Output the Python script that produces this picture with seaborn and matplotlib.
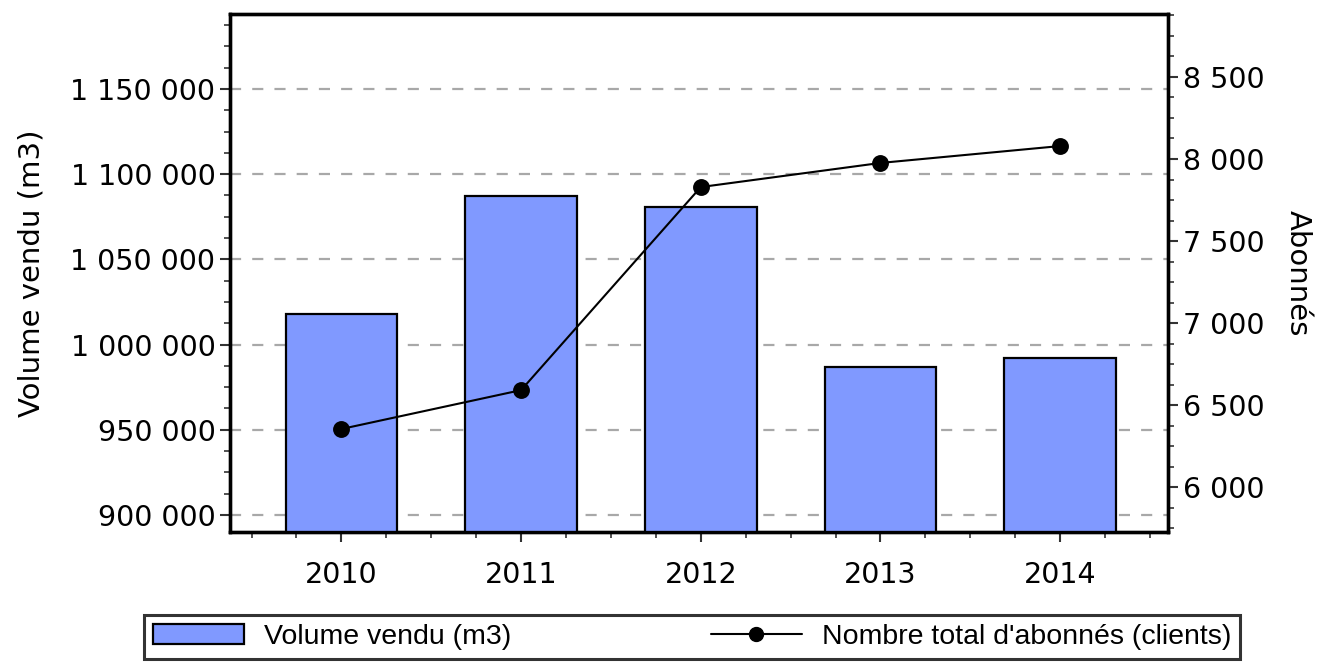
import matplotlib
matplotlib.use("Agg")
import matplotlib.pyplot as plt
from matplotlib.ticker import FuncFormatter, MultipleLocator
from matplotlib.lines import Line2D
from matplotlib.patches import Patch
import seaborn as sns
import pandas as pd

years = ["2010", "2011", "2012", "2013", "2014"]
volume = [1017700, 1087000, 1080500, 987000, 992300]
abonnes = [6354, 6591, 7829, 7976, 8079]

sns.set_theme(style="white")
plt.rcParams["font.family"] = ["DejaVu Sans"]
plt.rcParams["text.color"] = "black"
plt.rcParams["axes.labelcolor"] = "black"
plt.rcParams["xtick.color"] = "black"
plt.rcParams["ytick.color"] = "black"

df = pd.DataFrame({"annee": years, "volume": volume, "abonnes": abonnes})

fig = plt.figure(figsize=(13.18, 6.66), dpi=100)
ax = fig.add_axes([230/1318, 1-532/666, 938/1318, 518/666])

sns.barplot(data=df, x="annee", y="volume", ax=ax, color="#8099FF",
            saturation=1, edgecolor="black", linewidth=1.6, width=0.62, zorder=3)
ax.set_ylim(890000, 1194000)
ax.set_xlim(-0.62, 4.6)
ax.yaxis.set_major_locator(MultipleLocator(50000))
ax.yaxis.set_minor_locator(MultipleLocator(12500))
fmt = FuncFormatter(lambda v, p: f"{int(round(v)):,}".replace(",", " "))
ax.yaxis.set_major_formatter(fmt)
ax.grid(axis="y", which="major", color="#A8A8A8", linestyle=(0, (5, 5)), linewidth=1.6, zorder=0)
ax.set_axisbelow(True)
ax.set_xlabel("")
ax.set_ylabel("Volume vendu (m3)", fontsize=21, labelpad=18)

ax2 = ax.twinx()
sns.pointplot(data=df, x="annee", y="abonnes", ax=ax2, color="black",
              markers="o", markersize=11, linewidth=1.5, zorder=5)
ax2.set_ylim(5726, 8884)
ax2.set_xlim(-0.62, 4.6)
ax2.yaxis.set_major_locator(MultipleLocator(500))
ax2.yaxis.set_minor_locator(MultipleLocator(125))
ax2.yaxis.set_major_formatter(fmt)
ax2.set_xlabel("")
ax2.set_ylabel("Abonnés", fontsize=21, rotation=-90, labelpad=34)
ax2.grid(False)

ax.xaxis.set_minor_locator(MultipleLocator(0.25))
for a in (ax, ax2):
    for s in a.spines.values():
        s.set_color("black")
        s.set_linewidth(2.4)
    a.tick_params(which="major", direction="out", length=7, width=1.5, color="#333333", labelsize=20.5)
    a.tick_params(which="minor", direction="out", length=4, width=1.2, color="#333333")
ax.tick_params(axis="y", which="both", left=True)
ax2.tick_params(axis="y", which="both", right=True)
ax.tick_params(axis="x", which="both", bottom=True, pad=14)

handles = [Patch(facecolor="#8099FF", edgecolor="black", linewidth=1.6),
           Line2D([0], [0], color="black", marker="o", markersize=10, linewidth=1.5)]
leg = fig.legend(handles, ["Volume vendu (m3)", "Nombre total d'abonnés (clients)"],
                 loc="center", bbox_to_anchor=(692/1318, 1-637/666), ncol=2,
                 frameon=True, fancybox=False, shadow=False,
                 columnspacing=7.0, handlelength=3.2, handletextpad=0.7, borderpad=0.3,
                 prop={"family": "Liberation Sans", "size": 20.5})
leg.get_frame().set_edgecolor("black")
leg.get_frame().set_linewidth(2.2)

fig.savefig("out.png", dpi=100)
